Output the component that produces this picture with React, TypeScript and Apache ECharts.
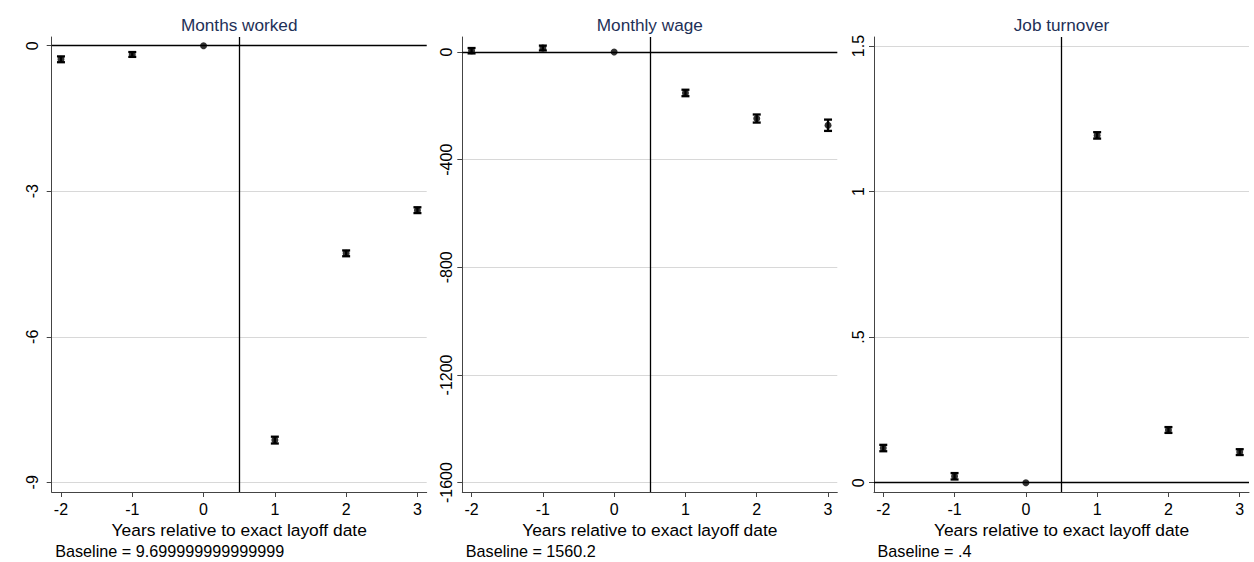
import React, { useEffect, useRef } from "react";
import * as echarts from "echarts";

// event time, years relative to layoff
const years = [-2, -1, 0, 1, 2, 3];

const titles = ["Months worked", "Monthly wage", "Job turnover"];
const baselines = [
  "Baseline = 9.699999999999999",
  "Baseline = 1560.2",
  "Baseline = .4",
];
const xName = "Years relative to exact layoff date";

// point estimates and half-width of the confidence band
const monthsCoef = [-0.28, -0.18, 0, -8.13, -4.28, -3.39];
const monthsCi = [0.06, 0.05, 0, 0.07, 0.06, 0.06];
const wageCoef = [5, 15, 0, -152, -247, -272];
const wageCi = [10, 9, 0, 12, 15, 21];
const turnCoef = [0.119, 0.022, 0, 1.193, 0.181, 0.105];
const turnCi = [0.011, 0.011, 0, 0.011, 0.01, 0.01];

// y ticks
const monthsTicks = [0, -3, -6, -9];
const monthsTickLabels = ["0", "-3", "-6", "-9"];
const wageTicks = [0, -400, -800, -1200, -1600];
const wageTickLabels = ["0", "-400", "-800", "-1200", "-1600"];
const turnTicks = [0, 0.5, 1, 1.5];
const turnTickLabels = ["0", ".5", "1", "1.5"];

const FONT = "Liberation Sans, Arial, sans-serif";

const App = () => {
  const ref = useRef<HTMLDivElement>(null);

  useEffect(() => {
    const chart = echarts.init(ref.current, null, { renderer: "svg" });

    const panels = [
      { coef: monthsCoef, ci: monthsCi, ticks: monthsTicks, labels: monthsTickLabels, min: -9.2, max: 0.18, margin: 11 },
      { coef: wageCoef, ci: wageCi, ticks: wageTicks, labels: wageTickLabels, min: -1635, max: 56, margin: 8 },
      { coef: turnCoef, ci: turnCi, ticks: turnTicks, labels: turnTickLabels, min: -0.032, max: 1.531, margin: 8 },
    ];
    const lefts = [51.7, 462.3, 874];
    const gw = 375;

    const grid = lefts.map((l) => ({ left: l, top: 37, width: gw, height: 455 }));

    const xAxis = panels.map((_, i) => ({
      type: "value",
      gridIndex: i,
      min: -2.13,
      max: 3.13,
      name: xName,
      nameLocation: "middle",
      nameGap: 28,
      nameTextStyle: { color: "#000", fontSize: 17.4, fontFamily: FONT, verticalAlign: "top" },
      axisLine: { onZero: false, lineStyle: { color: "#444", width: 1 } },
      axisTick: { show: true, length: 5, customValues: years, lineStyle: { color: "#444" } },
      axisLabel: { customValues: years, color: "#000", fontSize: 16, fontFamily: FONT, margin: 9 },
      splitLine: { show: false },
    }));

    const yAxis = panels.map((p, i) => ({
      type: "value",
      gridIndex: i,
      min: p.min,
      max: p.max,
      axisLine: { show: true, onZero: false, lineStyle: { color: "#444", width: 1 } },
      axisTick: { show: true, length: 5, customValues: p.ticks, lineStyle: { color: "#444" } },
      axisLabel: {
        customValues: p.ticks,
        rotate: 90,
        color: "#000",
        fontSize: 16,
        fontFamily: FONT,
        margin: p.margin,
        formatter: (v: number) => {
          const k = p.ticks.findIndex((t) => Math.abs(t - v) < 1e-9);
          return k >= 0 ? p.labels[k] : "";
        },
      },
      splitLine: { show: true, lineStyle: { color: "#d8d8d8", width: 1 } },
    }));

    const series: any[] = [];
    panels.forEach((p, i) => {
      series.push({
        type: "custom",
        xAxisIndex: i,
        yAxisIndex: i,
        silent: true,
        z: 3,
        data: years
          .map((x, k) => [x, p.coef[k] - p.ci[k], p.coef[k] + p.ci[k]])
          .filter((_, k) => p.ci[k] > 0),
        renderItem: (params: any, api: any) => {
          const x = api.value(0);
          const top = api.coord([x, api.value(2)]);
          const bot = api.coord([x, api.value(1)]);
          const w = 4;
          const st = { stroke: "#000", lineWidth: 2.3 };
          return {
            type: "group",
            children: [
              { type: "line", shape: { x1: top[0], y1: top[1], x2: bot[0], y2: bot[1] }, style: st },
              { type: "line", shape: { x1: top[0] - w, y1: top[1], x2: top[0] + w, y2: top[1] }, style: st },
              { type: "line", shape: { x1: bot[0] - w, y1: bot[1], x2: bot[0] + w, y2: bot[1] }, style: st },
            ],
          };
        },
      });
      series.push({
        type: "scatter",
        xAxisIndex: i,
        yAxisIndex: i,
        symbol: "circle",
        symbolSize: 7,
        z: 4,
        itemStyle: { color: "#000" },
        data: years.map((x, k) => [x, p.coef[k]]),
        markLine: {
          silent: true,
          symbol: ["none", "none"],
          label: { show: false },
          lineStyle: { color: "#000", type: "solid", width: 1.3 },
          data: [{ xAxis: 0.5 }, { yAxis: 0 }],
        },
      });
    });

    const graphic: any[] = [];
    lefts.forEach((l, i) => {
      graphic.push({
        type: "text",
        x: l + gw / 2,
        y: 25,
        style: {
          text: titles[i],
          fill: "#1e3057",
          font: `17.2px ${FONT}`,
          textAlign: "center",
          textVerticalAlign: "middle",
        },
      });
      graphic.push({
        type: "text",
        x: l + 3.5,
        y: 551,
        style: {
          text: baselines[i],
          fill: "#000",
          font: `16.2px ${FONT}`,
          textAlign: "left",
          textVerticalAlign: "middle",
        },
      });
    });

    chart.setOption({
      animation: false,
      backgroundColor: "#fff",
      grid,
      xAxis,
      yAxis,
      series,
      graphic,
    });

    return () => {
      chart.dispose();
    };
  }, []);

  return (
    <div
      ref={ref}
      style={{ position: "fixed", left: 0, top: 0, width: 1254, height: 562, background: "#fff" }}
    ></div>
  );
};

export default App;
